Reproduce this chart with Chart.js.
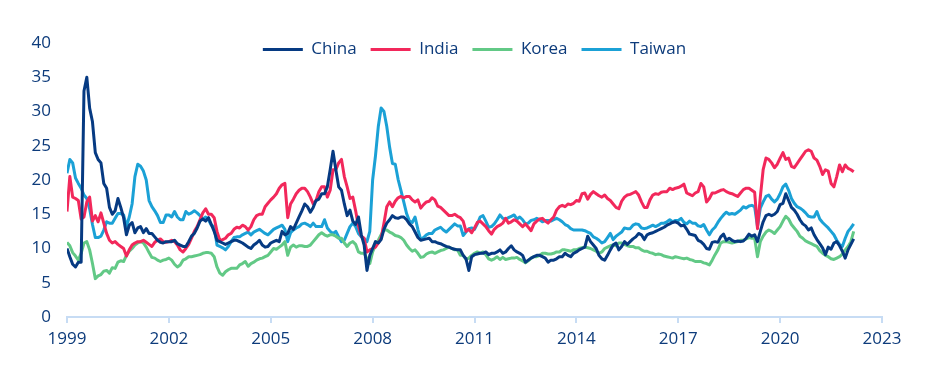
<!DOCTYPE html>
<html>
<head>
<meta charset="utf-8">
<script src="https://cdn.jsdelivr.net/npm/chart.js@4/dist/chart.umd.min.js"></script>
<style>
  html, body { margin: 0; padding: 0; background: #fff; }
</style>
</head>
<body>
<canvas id="chart" width="939" height="379"></canvas>
<script>
// monthly observations, Jan 1999 .. Mar 2022
const startYear = 1999;

const china = [
  10.0, 8.8, 7.7, 7.3, 8.0, 8.0, 33.0, 35.0, 30.5, 28.5, 24.0, 23.0, // 1999
  22.5, 19.5, 18.8, 16.0, 15.0, 15.5, 17.3, 16.0, 14.5, 12.0, 13.4, 13.8, // 2000
  12.3, 13.0, 13.2, 12.3, 12.9, 12.2, 12.2, 11.7, 11.2, 10.9, 10.8, 11.0, // 2001
  11.0, 11.0, 11.2, 10.7, 10.5, 10.3, 10.3, 11.0, 11.8, 12.2, 13.0, 14.0, // 2002
  14.3, 14.0, 14.5, 13.5, 12.5, 11.2, 11.0, 10.8, 10.6, 10.8, 11.0, 11.2, // 2003
  11.2, 11.0, 10.8, 10.5, 10.2, 10.0, 10.5, 10.8, 11.2, 10.5, 10.2, 10.3, // 2004
  10.8, 11.0, 11.2, 11.0, 12.5, 12.0, 12.2, 13.2, 12.8, 13.7, 14.6, 15.5, // 2005
  16.5, 16.1, 15.3, 16.0, 17.0, 17.2, 18.0, 18.0, 19.0, 21.5, 24.2, 21.5, // 2006
  19.0, 18.5, 16.5, 14.8, 15.6, 14.0, 13.5, 14.6, 12.0, 10.5, 6.8, 9.0,   // 2007
  10.0, 11.0, 10.8, 11.3, 12.8, 13.7, 14.2, 14.8, 14.5, 14.4, 14.6, 14.6, // 2008
  14.2, 13.6, 13.2, 12.4, 11.6, 11.2, 11.3, 11.4, 11.5, 11.0, 11.0, 10.8, // 2009
  10.7, 10.5, 10.3, 10.2, 10.0, 9.9, 9.8, 9.8, 9.0, 8.5, 6.8, 8.8,        // 2010
  9.1, 9.2, 9.3, 9.3, 9.5, 9.1, 9.3, 9.3, 9.5, 9.8, 9.3, 9.5,             // 2011
  10.0, 10.4, 9.8, 9.5, 9.3, 9.0, 8.0, 8.3, 8.6, 8.8, 9.0, 9.0,           // 2012
  8.8, 8.6, 8.0, 8.3, 8.3, 8.5, 8.8, 8.8, 9.3, 9.0, 8.8, 9.3,             // 2013
  9.5, 9.8, 10.0, 10.2, 11.8, 11.0, 10.5, 10.0, 9.0, 8.5, 8.3, 9.0,       // 2014
  9.8, 10.5, 10.8, 9.8, 10.3, 11.0, 10.6, 11.0, 11.4, 11.7, 12.2, 12.0,   // 2015
  11.3, 12.0, 12.2, 12.3, 12.5, 12.7, 12.9, 13.1, 13.4, 13.6, 13.8, 13.9, // 2016
  13.7, 13.3, 13.4, 12.8, 12.1, 12.0, 11.9, 11.2, 11.0, 10.6, 10.0, 9.9,  // 2017
  10.9, 11.0, 10.9, 11.7, 12.1, 11.2, 11.5, 11.2, 11.0, 11.1, 11.0, 11.1, // 2018
  11.5, 12.1, 11.8, 12.0, 11.0, 12.5, 13.9, 14.8, 15.0, 14.8, 15.0, 15.4, // 2019
  16.4, 16.6, 18.0, 17.0, 16.0, 15.6, 15.0, 14.2, 13.6, 13.3, 12.7, 13.0, // 2020
  12.0, 11.3, 10.7, 10.1, 9.1, 10.2, 9.9, 10.8, 11.0, 10.4, 9.6, 8.6,     // 2021
  9.8, 10.6, 11.4                                                         // 2022
];

const india = [
  15.4, 20.5, 17.5, 17.3, 17.0, 14.3, 14.6, 16.8, 17.5, 14.0, 14.8, 13.9, // 1999
  15.2, 13.7, 12.2, 11.2, 10.8, 11.0, 10.6, 10.3, 10.0, 8.9, 9.8, 10.5,   // 2000
  10.8, 11.0, 11.0, 11.2, 10.9, 10.6, 10.3, 10.9, 11.2, 11.4, 11.0, 10.9, // 2001
  11.0, 11.2, 11.0, 10.5, 9.8, 9.5, 10.0, 10.6, 11.5, 12.5, 13.2, 14.2,   // 2002
  15.2, 15.8, 15.0, 15.0, 14.5, 12.5, 11.2, 11.3, 11.5, 12.0, 12.2, 12.8, // 2003
  13.1, 13.0, 13.4, 13.2, 12.7, 13.2, 14.2, 14.8, 15.0, 15.0, 16.1, 16.6, // 2004
  17.1, 17.5, 18.0, 18.8, 19.3, 19.5, 14.5, 16.5, 17.2, 18.0, 18.5, 18.8, // 2005
  18.8, 18.3, 17.5, 16.5, 17.0, 18.3, 19.0, 19.0, 17.5, 18.5, 21.5, 21.5, // 2006
  22.5, 23.0, 20.5, 19.0, 17.3, 17.5, 15.5, 13.2, 11.8, 11.5, 9.5, 9.8,   // 2007
  10.0, 10.2, 10.8, 11.5, 13.7, 16.1, 16.8, 16.1, 16.9, 17.4, 17.6, 17.4, // 2008
  17.6, 17.6, 17.1, 16.8, 17.1, 15.9, 16.4, 16.8, 16.9, 17.4, 17.1, 16.2, // 2009
  16.0, 15.6, 15.2, 14.8, 14.8, 15.0, 14.7, 14.5, 14.0, 12.5, 12.8, 12.3, // 2010
  13.0, 13.8, 14.0, 13.6, 13.2, 12.6, 12.1, 12.8, 13.2, 13.4, 13.7, 14.4, // 2011
  13.7, 13.9, 14.2, 14.0, 13.6, 13.2, 13.6, 13.1, 12.6, 13.6, 14.0, 14.3, // 2012
  14.4, 14.0, 13.7, 14.2, 14.6, 15.6, 16.1, 16.3, 16.1, 16.5, 16.4, 16.6, // 2013
  17.0, 16.9, 18.0, 18.1, 17.2, 17.9, 18.3, 18.0, 17.7, 17.5, 17.8, 17.3, // 2014
  17.0, 16.5, 16.0, 15.8, 16.9, 17.5, 17.8, 17.9, 18.1, 18.3, 17.8, 16.8, // 2015
  16.0, 16.0, 17.1, 17.8, 18.0, 17.9, 18.2, 18.3, 18.3, 18.8, 18.6, 18.8, // 2016
  18.9, 19.1, 19.4, 18.1, 17.9, 17.7, 18.1, 18.3, 19.5, 19.0, 16.8, 17.3, // 2017
  18.1, 18.1, 18.3, 18.5, 18.6, 18.3, 18.1, 18.0, 17.8, 17.6, 18.1, 18.6, // 2018
  18.8, 18.8, 18.5, 18.2, 12.9, 17.5, 21.5, 23.2, 23.0, 22.5, 21.8, 22.3, // 2019
  23.2, 24.0, 23.0, 23.2, 22.0, 21.8, 22.4, 23.0, 23.6, 24.2, 24.4, 24.2, // 2020
  23.2, 22.9, 22.0, 20.8, 21.5, 21.3, 19.5, 19.0, 20.5, 22.2, 21.2, 22.2, // 2021
  21.7, 21.5, 21.2                                                        // 2022
];

const korea = [
  10.9, 10.4, 9.4, 8.9, 8.3, 9.3, 10.8, 11.0, 9.8, 7.8, 5.6, 6.0,         // 1999
  6.2, 6.7, 6.8, 6.4, 7.2, 7.1, 8.0, 8.2, 8.1, 9.0, 9.6, 10.0,            // 2000
  10.5, 10.8, 11.0, 10.8, 10.2, 9.4, 8.7, 8.6, 8.3, 8.1, 8.3, 8.4,        // 2001
  8.6, 8.3, 7.7, 7.3, 7.6, 8.3, 8.5, 8.8, 8.8, 8.9, 9.0, 9.1,             // 2002
  9.3, 9.4, 9.4, 9.3, 8.8, 7.3, 6.4, 6.1, 6.6, 6.9, 7.1, 7.1,             // 2003
  7.1, 7.6, 7.8, 8.1, 7.4, 7.8, 8.0, 8.3, 8.5, 8.6, 8.8, 9.0,             // 2004
  9.5, 10.0, 9.9, 10.2, 10.5, 11.0, 9.0, 10.2, 10.5, 10.2, 10.4, 10.4,    // 2005
  10.3, 10.3, 10.5, 11.0, 11.5, 12.0, 12.3, 12.0, 11.8, 12.0, 12.0, 11.8, // 2006
  11.5, 11.5, 10.8, 10.3, 10.8, 11.0, 10.6, 9.5, 9.3, 9.3, 8.5, 7.8,      // 2007
  9.5, 10.5, 11.2, 12.0, 12.7, 12.7, 12.4, 12.2, 11.9, 11.8, 11.6, 11.2,  // 2008
  10.5, 10.0, 9.6, 9.8, 9.3, 8.7, 8.8, 9.2, 9.4, 9.5, 9.3, 9.5,           // 2009
  9.7, 9.8, 10.0, 10.2, 10.0, 9.8, 9.8, 9.0, 9.0, 8.4, 8.6, 9.0,          // 2010
  9.3, 9.5, 9.3, 9.5, 9.1, 8.5, 8.3, 8.5, 8.8, 8.4, 8.7, 8.4,             // 2011
  8.5, 8.6, 8.6, 8.7, 8.4, 8.2, 7.9, 8.2, 8.6, 8.8, 8.8, 9.0,             // 2012
  9.3, 9.3, 9.2, 9.2, 9.3, 9.5, 9.5, 9.8, 9.8, 9.7, 9.6, 9.8,             // 2013
  9.8, 10.0, 10.1, 10.2, 10.1, 10.0, 9.8, 9.6, 9.3, 9.5, 10.0, 10.2,      // 2014
  10.4, 10.5, 10.4, 10.8, 10.8, 10.6, 10.4, 10.3, 10.3, 10.1, 10.1, 9.8,  // 2015
  9.6, 9.6, 9.4, 9.3, 9.1, 9.2, 9.1, 8.9, 8.8, 8.7, 8.6, 8.8,             // 2016
  8.7, 8.6, 8.5, 8.6, 8.4, 8.3, 8.1, 8.1, 8.1, 7.9, 7.8, 7.6,             // 2017
  8.3, 9.1, 9.8, 10.8, 11.0, 11.0, 10.9, 10.8, 10.9, 11.0, 11.2, 11.2,    // 2018
  11.4, 11.6, 11.5, 11.5, 8.8, 11.0, 11.8, 12.4, 12.7, 12.5, 12.2, 12.7,  // 2019
  13.2, 14.0, 14.7, 14.3, 13.5, 13.0, 12.5, 11.8, 11.5, 11.1, 10.9, 10.7, // 2020
  10.5, 10.3, 9.7, 9.3, 9.0, 8.8, 8.5, 8.4, 8.6, 8.8, 9.2, 9.8,           // 2021
  10.3, 11.0, 12.5                                                        // 2022
];

const taiwan = [
  21.0, 23.0, 22.5, 20.3, 19.5, 18.8, 17.8, 17.3, 15.8, 13.5, 11.6, 11.6, // 1999
  11.8, 12.7, 13.9, 13.7, 13.7, 14.4, 15.1, 15.1, 14.9, 13.2, 14.6, 16.5, // 2000
  20.5, 22.3, 22.0, 21.3, 20.0, 17.0, 16.1, 15.5, 14.8, 13.8, 13.8, 14.9, // 2001
  14.9, 14.6, 15.4, 14.6, 14.2, 14.2, 15.4, 15.0, 15.2, 15.5, 15.2, 14.8, // 2002
  14.3, 14.6, 14.2, 13.4, 13.2, 10.5, 10.3, 10.1, 9.8, 10.3, 11.0, 11.6,  // 2003
  11.7, 11.7, 12.0, 12.2, 12.4, 12.0, 12.4, 12.6, 12.8, 12.5, 12.2, 12.0, // 2004
  12.4, 12.8, 13.0, 13.2, 13.4, 12.8, 11.0, 12.3, 12.7, 13.0, 13.2, 13.6, // 2005
  13.7, 13.5, 13.2, 13.7, 13.2, 13.2, 13.2, 14.2, 13.0, 12.5, 12.2, 12.5, // 2006
  11.7, 11.0, 11.2, 12.2, 13.2, 13.7, 13.2, 12.2, 11.7, 11.4, 11.0, 12.5, // 2007
  20.0, 23.5, 27.8, 30.5, 30.0, 27.8, 24.8, 22.4, 22.3, 20.1, 18.5, 16.8, // 2008
  15.1, 14.0, 13.8, 14.6, 12.8, 11.3, 11.6, 12.0, 12.2, 12.2, 12.7, 12.9, // 2009
  13.1, 12.7, 12.4, 12.8, 13.2, 13.6, 13.3, 13.3, 11.9, 12.4, 12.9, 13.0, // 2010
  12.8, 13.6, 14.6, 14.8, 14.0, 13.1, 13.2, 13.6, 14.2, 14.9, 14.4, 14.3, // 2011
  14.5, 14.7, 14.9, 14.3, 14.6, 14.2, 13.6, 13.7, 14.1, 14.2, 14.4, 14.2, // 2012
  13.9, 14.1, 14.1, 14.0, 14.2, 14.4, 14.2, 13.9, 13.5, 13.3, 12.9, 12.7, // 2013
  12.7, 12.7, 12.7, 12.6, 12.4, 12.2, 11.7, 11.5, 11.2, 10.8, 11.0, 11.6, // 2014
  12.2, 11.3, 11.8, 12.1, 12.4, 13.0, 12.9, 12.9, 13.4, 13.6, 13.5, 13.0, // 2015
  12.9, 13.0, 13.2, 13.4, 13.2, 13.4, 13.7, 13.7, 13.9, 14.2, 13.9, 14.1, // 2016
  14.1, 14.4, 13.8, 13.6, 14.0, 13.7, 13.7, 13.3, 13.2, 13.5, 12.7, 12.0, // 2017
  12.7, 13.1, 13.8, 14.4, 14.9, 15.3, 15.0, 15.1, 15.0, 15.3, 15.6, 16.1, // 2018
  15.9, 16.2, 16.3, 16.1, 13.2, 15.9, 16.8, 17.6, 17.8, 17.2, 16.8, 17.2, // 2019
  18.0, 19.0, 19.4, 18.5, 17.3, 16.6, 16.1, 15.9, 15.6, 15.2, 14.7, 14.6, // 2020
  14.6, 15.4, 14.3, 13.8, 13.4, 13.0, 12.5, 12.0, 11.2, 10.6, 10.3, 11.5, // 2021
  12.5, 13.0, 13.6                                                        // 2022
];

const seriesNames = ['China', 'India', 'Korea', 'Taiwan'];
const seriesColors = ['#063a82', '#f2285b', '#62c986', '#1ba1d6'];
const xTicks = [1999, 2002, 2005, 2008, 2011, 2014, 2017, 2020, 2023];
const yTicks = [0, 5, 10, 15, 20, 25, 30, 35, 40];

const textColor = '#0d3b7b';
const axisColor = '#c7dcf4';
const font = { family: '"Open Sans", "Noto Sans", sans-serif', size: 17 };

const dates = china.map((_, i) => startYear + i / 12);
const toPoints = values => values.map((v, i) => ({ x: dates[i], y: v }));

const datasets = [china, india, korea, taiwan].map((values, i) => ({
  label: seriesNames[i],
  data: toPoints(values),
  borderColor: seriesColors[i],
  backgroundColor: seriesColors[i],
  borderWidth: 3,
  pointRadius: 0,
  tension: 0,
  borderJoinStyle: 'round'
}));

// legend sits over the top of the plot area: it takes no layout height,
// but its clip box is opened up again before drawing
const legendOverlay = {
  id: 'legendOverlay',
  afterLayout(chart) {
    const legend = chart.legend;
    legend.height = 40;
    legend.bottom = legend.top + 40;
  }
};

new Chart(document.getElementById('chart'), {
  type: 'line',
  data: { datasets },
  plugins: [legendOverlay],
  options: {
    responsive: false,
    animation: false,
    devicePixelRatio: 1,
    layout: { padding: { top: 27, right: 57, bottom: 0, left: 0 } },
    scales: {
      x: {
        type: 'linear',
        min: 1999,
        max: 2023,
        afterBuildTicks: scale => { scale.ticks = xTicks.map(v => ({ value: v })); },
        afterFit: scale => { scale.height = 62; },
        ticks: {
          color: textColor,
          font,
          padding: 6,
          maxRotation: 0,
          autoSkip: false,
          callback: v => String(v)
        },
        grid: { drawOnChartArea: false, drawTicks: true, tickLength: 6, lineWidth: 2, color: axisColor },
        border: { display: true, color: axisColor, width: 2 }
      },
      y: {
        min: 0,
        max: 42.19,
        afterBuildTicks: scale => { scale.ticks = yTicks.map(v => ({ value: v })); },
        afterFit: scale => { scale.width = 67; },
        ticks: { color: textColor, font, padding: 16 },
        grid: { display: false, drawTicks: false },
        border: { display: false }
      }
    },
    plugins: {
      legend: {
        position: 'top',
        fullSize: false,
        maxHeight: 1,
        align: 'center',
        labels: {
          color: textColor,
          font,
          boxWidth: 40,
          boxHeight: 3,
          padding: 14,
          generateLabels: chart =>
            Chart.defaults.plugins.legend.labels.generateLabels(chart)
              .map(item => ({ ...item, lineWidth: 0 }))
        }
      },
      tooltip: { enabled: false }
    }
  }
});
</script>
</body>
</html>
